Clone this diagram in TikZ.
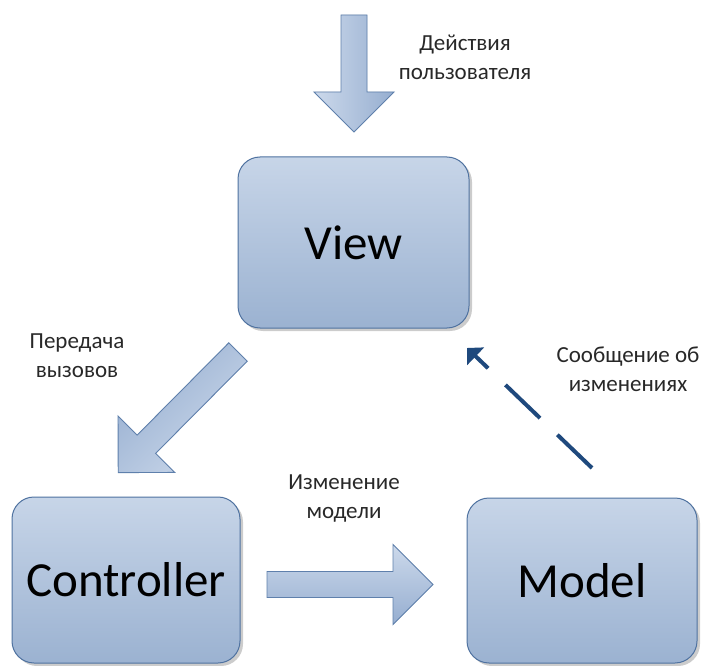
\documentclass[tikz,border=0pt]{standalone}
\usepackage{fontspec}
\setmainfont{Carlito}
\usetikzlibrary{shadows,arrows.meta}
\definecolor{boxtop}{RGB}{199,213,232}
\definecolor{boxbot}{RGB}{155,178,209}
\definecolor{boxline}{RGB}{79,114,160}
\definecolor{arrlight}{RGB}{204,217,235}
\definecolor{arrdark}{RGB}{150,174,208}
\definecolor{arrline}{RGB}{95,128,172}
\definecolor{dashblue}{RGB}{31,73,125}
\definecolor{labelgray}{RGB}{40,40,40}
\newcommand{\blockarrow}[4]{%
  \fill[black,opacity=0.22,shift={(2.5,2.5)},shift={(#1)},rotate=#2]
    (0,-13) -- (#3-40,-13) -- (#3-40,-40) -- (#3,0) -- (#3-40,40) -- (#3-40,13) -- (0,13) -- cycle;
  \path[shift={(#1)},rotate=#2,draw=arrline,line width=0.9pt,top color=arrlight,bottom color=arrdark,shading angle=#4]
    (0,-13) -- (#3-40,-13) -- (#3-40,-40) -- (#3,0) -- (#3-40,40) -- (#3-40,13) -- (0,13) -- cycle;
}
\begin{document}
\begin{tikzpicture}[x=1pt,y=-1pt,
  mvcbox/.style={draw=boxline,line width=1pt,rounded corners=22pt,
    top color=boxtop,bottom color=boxbot,inner sep=0pt,
    font=\fontsize{49}{52}\selectfont,
    drop shadow={shadow xshift=3pt,shadow yshift=-3pt,opacity=0.2,fill=black}},
  lbl/.style={align=center,font=\fontsize{23}{29}\selectfont,text=labelgray},
  notify/.style={draw=dashblue,line width=4pt,dash pattern=on 48pt off 24pt,
    -{Triangle[length=12pt,width=24pt]}}]
\useasboundingbox (0,0) rectangle (705,666);
\fill[white] (0,0) rectangle (705,666);

% boxes
\node[mvcbox,minimum width=231pt,minimum height=171pt] (view) at (353.5,242.5) {View};
\node[mvcbox,minimum width=228pt,minimum height=166pt] (ctrl) at (126,580) {Controller};
\node[mvcbox,minimum width=230pt,minimum height=165pt] (model) at (582,580.5) {Model};

% block arrows
\coordinate (ua) at (354,15);
\coordinate (da) at (238,352);
\coordinate (ha) at (267,584.5);
\blockarrow{ua}{-90}{117}{90}
\blockarrow{da}{-134.8}{170}{225}
\blockarrow{ha}{0}{166}{0}

% dashed notification arrow
\coordinate (ds) at (592,468);
\coordinate (de) at (467,348);
\draw[notify] (ds) -- (de);

% labels
\node[lbl] (l1) at (465,57) {Действия\\пользователя};
\node[lbl] (l2) at (77,356) {Передача\\вызовов};
\node[lbl] (l3) at (628,369) {Сообщение об\\изменениях};
\node[lbl] (l4) at (344,499) {Изменение\\модели};
\end{tikzpicture}
\end{document}
